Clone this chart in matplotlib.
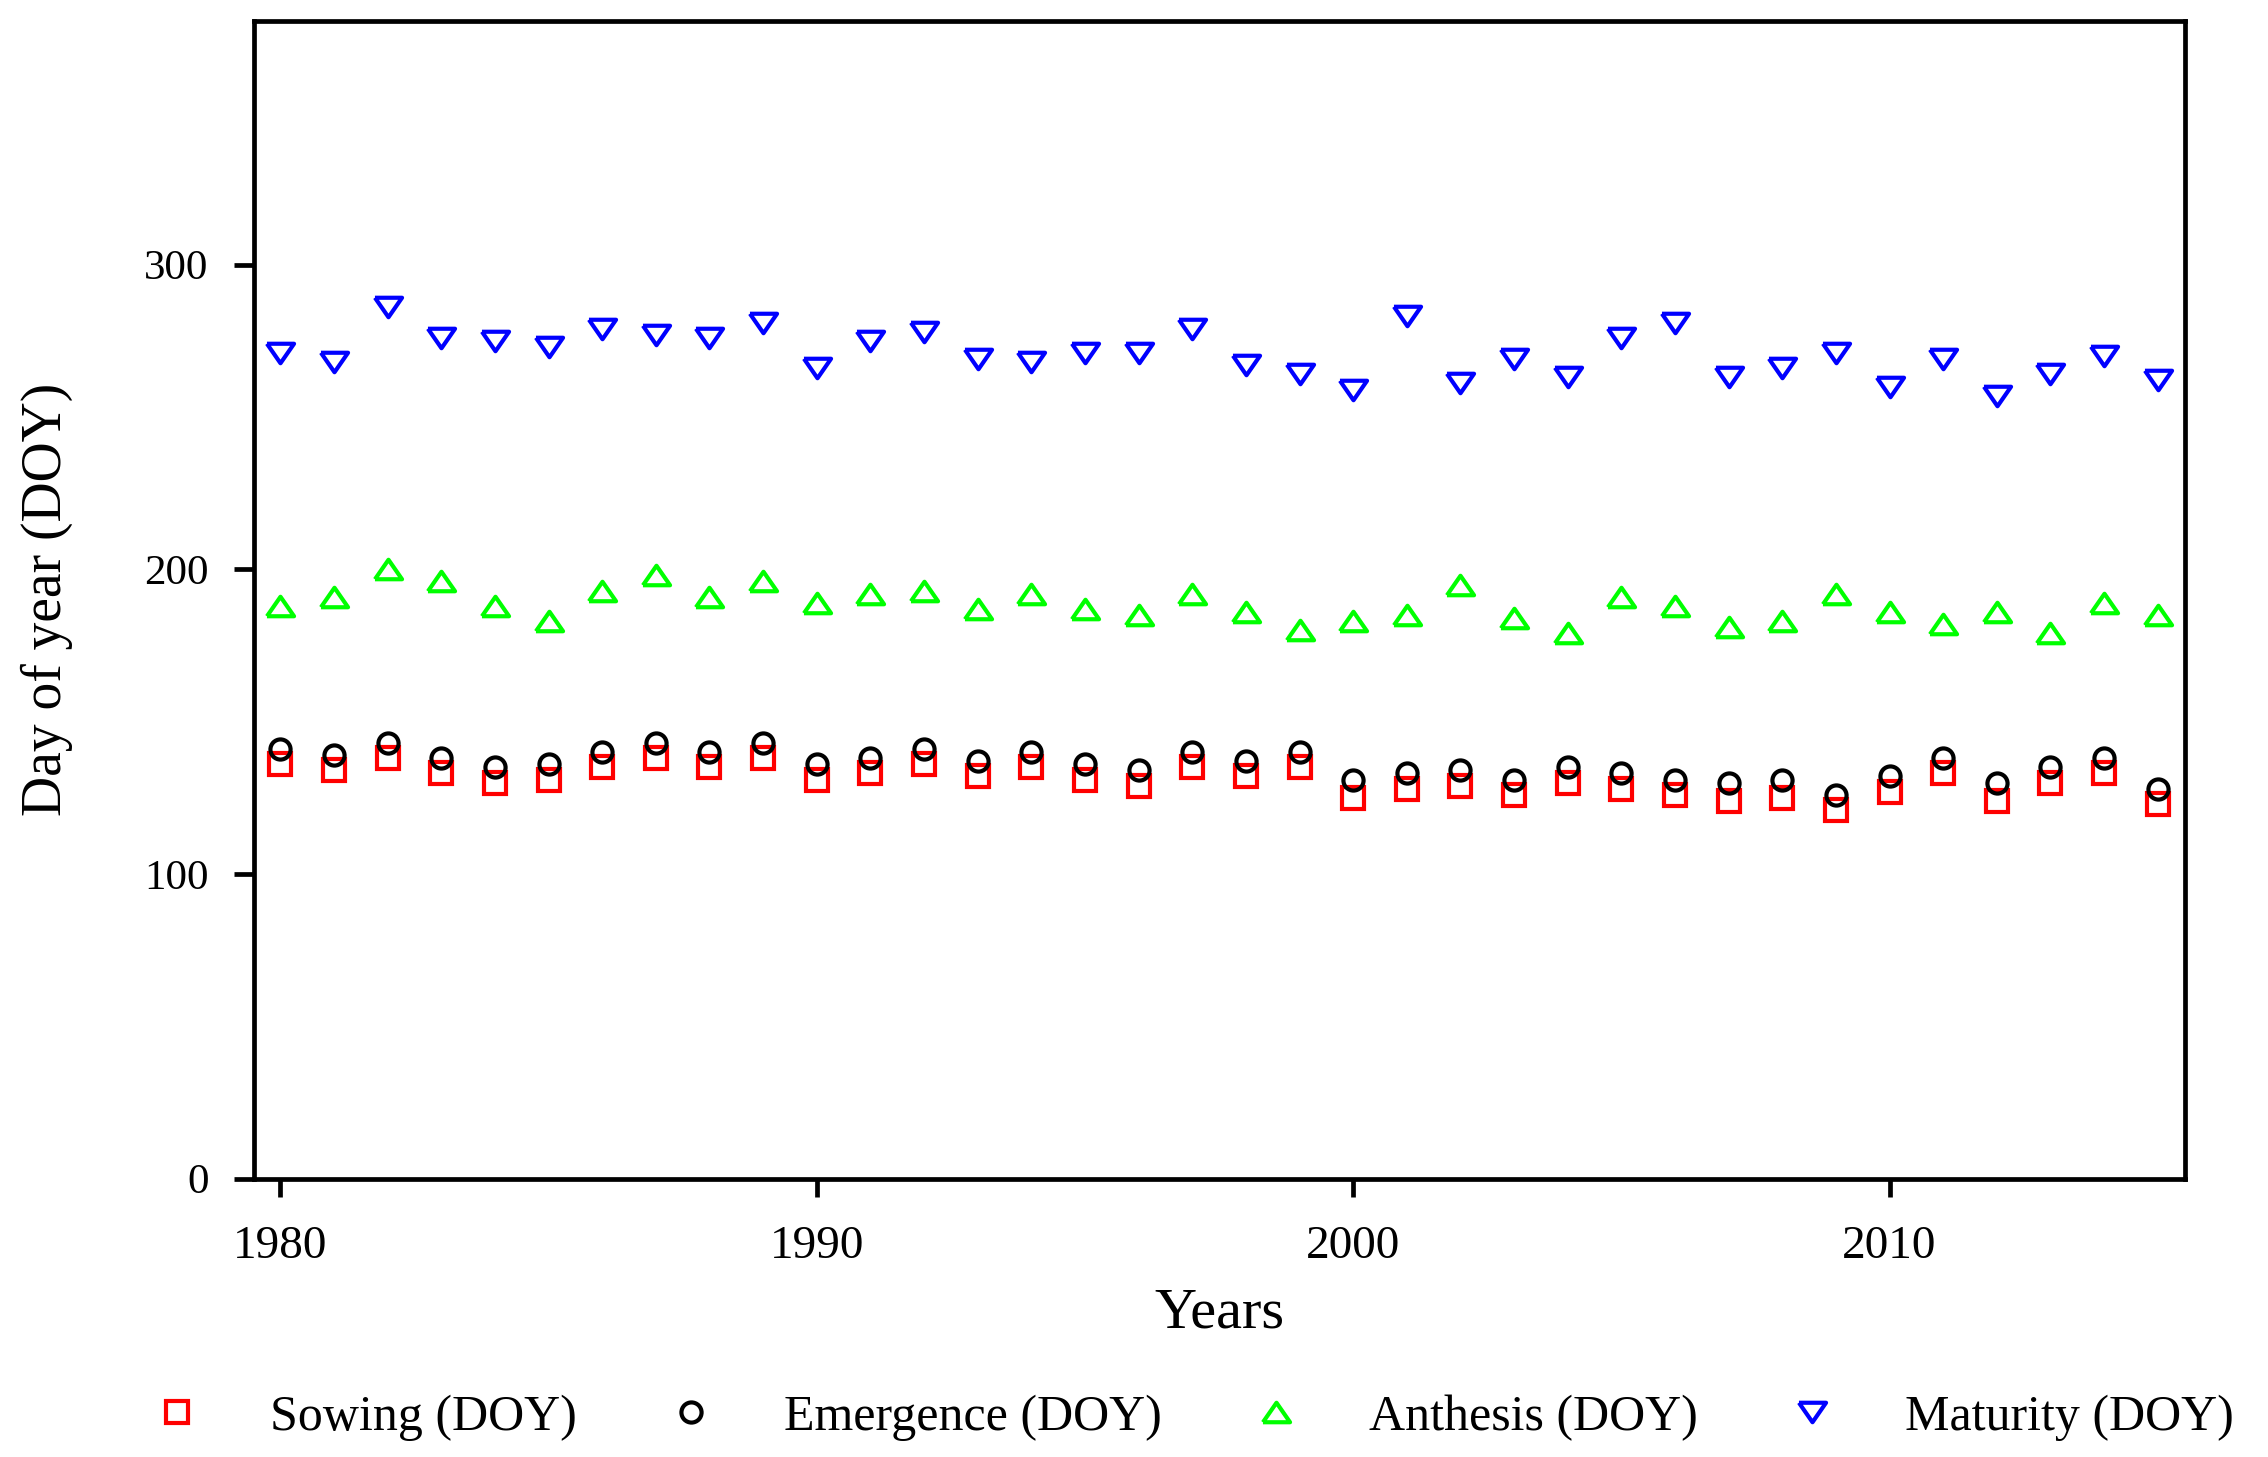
import numpy as np
import matplotlib
matplotlib.use("Agg")
import matplotlib.pyplot as plt
from matplotlib.markers import MarkerStyle

plt.rcParams["font.family"] = ["Liberation Serif", "DejaVu Serif"]

# values (day of year)
years = np.arange(1980, 2016)
sowing = [136, 134, 138, 133, 130, 131, 135, 138, 135, 138,
          131, 133, 136, 132, 135, 131, 129, 135, 132, 135,
          125, 128, 129, 126, 130, 128, 126, 124, 125, 121,
          127, 133, 124, 130, 133, 123]
emergence = [141, 139, 143, 138, 135, 136, 140, 143, 140, 143,
             136, 138, 141, 137, 140, 136, 134, 140, 137, 140,
             131, 133, 134, 131, 135, 133, 131, 130, 131, 126,
             132, 138, 130, 135, 138, 128]
anthesis = [188, 191, 200, 196, 188, 183, 193, 198, 191, 196,
            189, 192, 193, 187, 192, 187, 185, 192, 186, 180,
            183, 185, 195, 184, 179, 191, 188, 181, 183, 192,
            186, 182, 186, 179, 189, 185]
maturity = [271, 268, 286, 276, 275, 273, 279, 277, 276, 281,
            266, 275, 278, 269, 268, 271, 271, 279, 267, 264,
            259, 283, 261, 269, 263, 276, 281, 263, 266, 271,
            260, 269, 257, 264, 270, 262]

labels = ["Sowing (DOY)", "Emergence (DOY)", "Anthesis (DOY)", "Maturity (DOY)"]
series = [sowing, emergence, anthesis, maturity]

# the triangles in the original are a bit wider than tall
tri_up = MarkerStyle([(-1, -0.72), (0, 0.72), (1, -0.72), (-1, -0.72)], joinstyle="miter")
tri_down = MarkerStyle([(-1, 0.72), (1, 0.72), (0, -0.72), (-1, 0.72)], joinstyle="miter")
markers = ["s", "o", tri_up, tri_down]
colors = ["#ff0000", "#000000", "#00ff00", "#0000ff"]
sizes = [15.5, 14.5, 19.5, 19.5]

fig = plt.figure(figsize=(22.68, 14.57), dpi=100)
ax = fig.add_axes([0.1118, 0.1911, 0.8514, 0.7945])

for vals, lab, m, c, s in zip(series, labels, markers, colors, sizes):
    ax.plot(years, vals, linestyle="none", marker=m, markersize=s,
            markerfacecolor="none", markeredgecolor=c, markeredgewidth=3,
            label=lab)

ax.set_xlim(1979.5, 2015.5)
ax.set_ylim(0, 380)
ax.set_xticks([1980, 1990, 2000, 2010])
ax.set_yticks([0, 100, 200, 300])

for sp in ax.spines.values():
    sp.set_linewidth(3.4)
ax.tick_params(axis="both", direction="out", width=3.4)
ax.tick_params(axis="x", length=13, pad=21, labelsize=34)
ax.tick_params(axis="y", length=14.5, pad=18, labelsize=31)

ax.set_xlabel("Years", fontsize=42, labelpad=14)
ax.set_ylabel("Day of year (DOY)", fontsize=40, labelpad=51)

fig.legend(loc="center left", bbox_to_anchor=(0.056, 0.027), ncol=4,
           frameon=False, fontsize=36, borderpad=0, handlelength=1.0,
           handletextpad=1.36, columnspacing=1.78)

fig.savefig("out.png", dpi=100)
